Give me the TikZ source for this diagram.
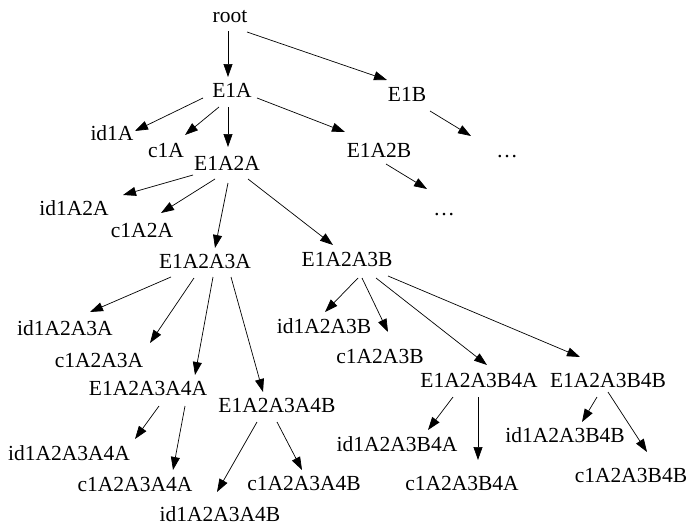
\documentclass[tikz,border=0pt]{standalone}
\usepackage{fontspec}
\setmainfont{Liberation Serif}
\usetikzlibrary{arrows.meta}
\begin{document}
\begin{tikzpicture}[x=1pt,y=-1pt,
  lbl/.style={inner sep=0pt,anchor=base,font=\fontsize{21.5}{24}\selectfont},
  edge/.style={line width=0.7pt,-{Triangle[length=13pt,width=9pt]}}]
\useasboundingbox (0,0) rectangle (691,530);

% node labels, placed on their baselines
\node[lbl] (root) at (230,22) {root};
\node[lbl] (E1A) at (232,97) {E1A};
\node[lbl] (E1B) at (407,101) {E1B};
\node[lbl] (id1A) at (112,140) {id1A};
\node[lbl] (c1A) at (166,157) {c1A};
\node[lbl] (E1A2A) at (227,170) {E1A2A};
\node[lbl] (E1A2B) at (379,157) {E1A2B};
\node[lbl] (dotsB) at (507,157) {…};
\node[lbl] (dotsAB) at (444,215) {…};
\node[lbl] (id1A2A) at (74,215) {id1A2A};
\node[lbl] (c1A2A) at (142,237) {c1A2A};
\node[lbl] (E1A2A3A) at (205,268) {E1A2A3A};
\node[lbl] (E1A2A3B) at (347,266) {E1A2A3B};
\node[lbl] (id1A2A3A) at (65,335) {id1A2A3A};
\node[lbl] (c1A2A3A) at (99,367) {c1A2A3A};
\node[lbl] (id1A2A3B) at (324,333) {id1A2A3B};
\node[lbl] (c1A2A3B) at (380,363) {c1A2A3B};
\node[lbl] (E1A2A3A4A) at (148,395) {E1A2A3A4A};
\node[lbl] (E1A2A3A4B) at (277,412) {E1A2A3A4B};
\node[lbl] (E1A2A3B4A) at (479,387) {E1A2A3B4A};
\node[lbl] (E1A2A3B4B) at (608,387) {E1A2A3B4B};
\node[lbl] (id1A2A3A4A) at (69,460) {id1A2A3A4A};
\node[lbl] (c1A2A3A4A) at (135,491) {c1A2A3A4A};
\node[lbl] (c1A2A3A4B) at (304,490) {c1A2A3A4B};
\node[lbl] (id1A2A3A4B) at (220,521) {id1A2A3A4B};
\node[lbl] (id1A2A3B4A) at (397,451) {id1A2A3B4A};
\node[lbl] (c1A2A3B4A) at (462,490) {c1A2A3B4A};
\node[lbl] (id1A2A3B4B) at (565,442) {id1A2A3B4B};
\node[lbl] (c1A2A3B4B) at (631,482) {c1A2A3B4B};

% edges, offset from each label's baseline point
\draw[edge] ([shift={(-2,9)}]root.base) -- ([shift={(-4,-20)}]E1A.base);
\draw[edge] ([shift={(17,10)}]root.base) -- ([shift={(-20,-21)}]E1B.base);
\draw[edge] ([shift={(-29,1)}]E1A.base) -- ([shift={(23,-9)}]id1A.base);
\draw[edge] ([shift={(-13,10)}]E1A.base) -- ([shift={(19,-22)}]c1A.base);
\draw[edge] ([shift={(-4,10)}]E1A.base) -- ([shift={(1,-23)}]E1A2A.base);
\draw[edge] ([shift={(25,1)}]E1A.base) -- ([shift={(-34,-25)}]E1A2B.base);
\draw[edge] ([shift={(23,10)}]E1B.base) -- ([shift={(-36,-21)}]dotsB.base);
\draw[edge] ([shift={(7,7)}]E1A2B.base) -- ([shift={(-17,-26)}]dotsAB.base);
\draw[edge] ([shift={(-34,5)}]E1A2A.base) -- ([shift={(49,-20)}]id1A2A.base);
\draw[edge] ([shift={(-12,9)}]E1A2A.base) -- ([shift={(19,-24)}]c1A2A.base);
\draw[edge] ([shift={(1,13)}]E1A2A.base) -- ([shift={(10,-20)}]E1A2A3A.base);
\draw[edge] ([shift={(21,9)}]E1A2A.base) -- ([shift={(-14,-21)}]E1A2A3B.base);
\draw[edge] ([shift={(-34,9)}]E1A2A3A.base) -- ([shift={(25,-23)}]id1A2A3A.base);
\draw[edge] ([shift={(-11,10)}]E1A2A3A.base) -- ([shift={(51,-24)}]c1A2A3A.base);
\draw[edge] ([shift={(8,9)}]E1A2A3A.base) -- ([shift={(47,-20)}]E1A2A3A4A.base);
\draw[edge] ([shift={(26,9)}]E1A2A3A.base) -- ([shift={(-14,-20)}]E1A2A3A4B.base);
\draw[edge] ([shift={(11,12)}]E1A2A3B.base) -- ([shift={(1,-21)}]id1A2A3B.base);
\draw[edge] ([shift={(15,12)}]E1A2A3B.base) -- ([shift={(8,-31)}]c1A2A3B.base);
\draw[edge] ([shift={(29,12)}]E1A2A3B.base) -- ([shift={(8,-22)}]E1A2A3B4A.base);
\draw[edge] ([shift={(41,10)}]E1A2A3B.base) -- ([shift={(-28,-30)}]E1A2A3B4B.base);
\draw[edge] ([shift={(11,11)}]E1A2A3A4A.base) -- ([shift={(66,-21)}]id1A2A3A4A.base);
\draw[edge] ([shift={(37,11)}]E1A2A3A4A.base) -- ([shift={(38,-21)}]c1A2A3A4A.base);
\draw[edge] ([shift={(-20,10)}]E1A2A3A4B.base) -- ([shift={(-3,-29)}]id1A2A3A4B.base);
\draw[edge] ([shift={(0,10)}]E1A2A3A4B.base) -- ([shift={(-2,-20)}]c1A2A3A4B.base);
\draw[edge] ([shift={(-26,10)}]E1A2A3B4A.base) -- ([shift={(31,-21)}]id1A2A3B4A.base);
\draw[edge] ([shift={(-1,10)}]E1A2A3B4A.base) -- ([shift={(16,-30)}]c1A2A3B4A.base);
\draw[edge] ([shift={(-11,10)}]E1A2A3B4B.base) -- ([shift={(17,-20)}]id1A2A3B4B.base);
\draw[edge] ([shift={(0,5)}]E1A2A3B4B.base) -- ([shift={(16,-30)}]c1A2A3B4B.base);
\end{tikzpicture}
\end{document}
